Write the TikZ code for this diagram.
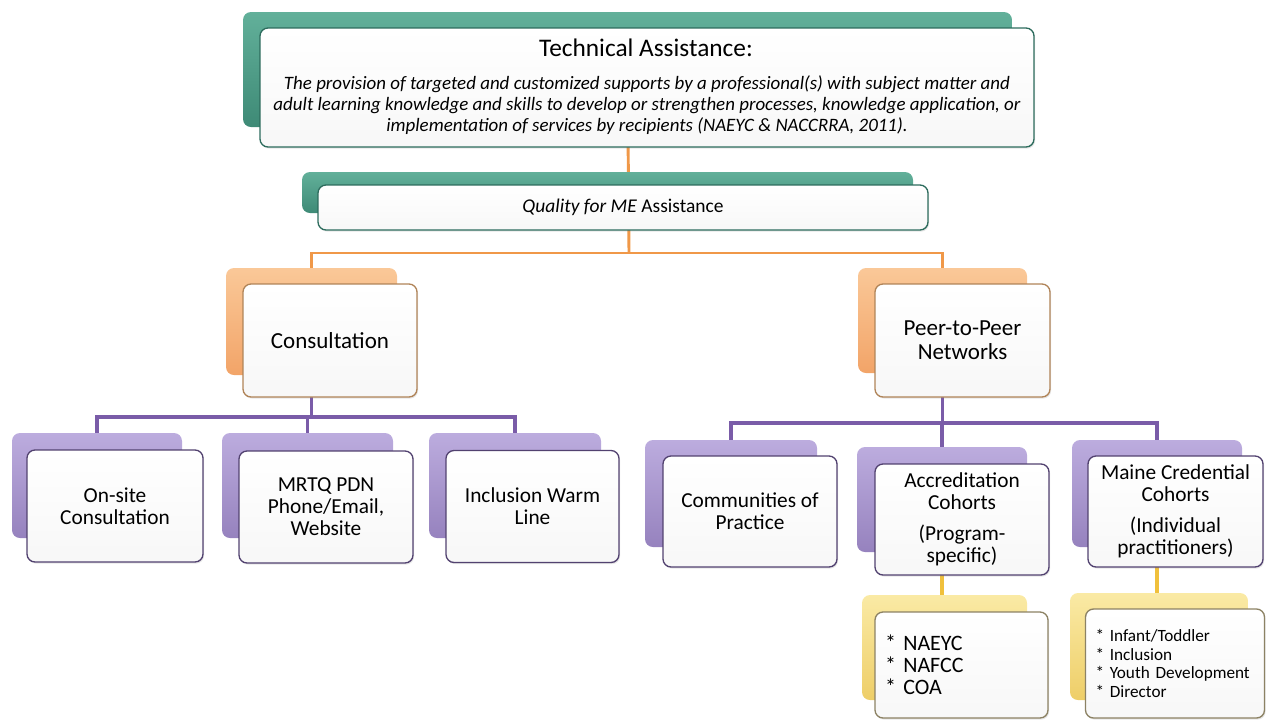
\documentclass[tikz,border=0pt]{standalone}
\usepackage{fontspec}
\setmainfont{Carlito}
\usetikzlibrary{shadows}
\pgfdeclarelayer{bg}
\pgfsetlayers{bg,main}

\definecolor{tealA}{RGB}{98,176,154}
\definecolor{tealB}{RGB}{62,138,118}
\definecolor{tealE}{RGB}{45,108,93}
\definecolor{orngA}{RGB}{250,200,152}
\definecolor{orngB}{RGB}{242,164,104}
\definecolor{orngE}{RGB}{176,132,88}
\definecolor{orngL}{RGB}{240,152,72}
\definecolor{purpA}{RGB}{188,172,222}
\definecolor{purpB}{RGB}{150,130,190}
\definecolor{purpE}{RGB}{82,66,112}
\definecolor{purpL}{RGB}{122,92,168}
\definecolor{yelwA}{RGB}{250,234,165}
\definecolor{yelwB}{RGB}{238,206,104}
\definecolor{yelwE}{RGB}{140,130,100}
\definecolor{yelwL}{RGB}{240,192,60}

\tikzset{every picture/.style={line width=0.75pt},
  frontbox/.style={rounded corners=6pt, line width=1pt, top color=white, bottom color=black!3,
    inner sep=0.75pt, align=center, drop shadow={opacity=0.2, shadow xshift=0.8pt, shadow yshift=-1.2pt}},
  backbox/.style={rounded corners=6pt, inner sep=0pt},
  tealbox/.style={frontbox, draw=tealE},
  tealshade/.style={backbox, top color=tealA, bottom color=tealB},
  orngbox/.style={frontbox, draw=orngE},
  orngshade/.style={backbox, top color=orngA, bottom color=orngB},
  purpbox/.style={frontbox, draw=purpE},
  purpshade/.style={backbox, top color=purpA, bottom color=purpB},
  yelwbox/.style={frontbox, draw=yelwE},
  yelwshade/.style={backbox, top color=yelwA, bottom color=yelwB},
  orngline/.style={draw=orngL, line width=2.2pt},
  purpline/.style={draw=purpL, line width=2.8pt},
  yelwline/.style={draw=yelwL, line width=2.4pt},
  midfont/.style={font=\fontsize{17.25}{18}\selectfont},
  lowfont/.style={font=\fontsize{16}{16.5}\selectfont}
}

\begin{document}
\begin{tikzpicture}[x=0.75pt,y=0.75pt,yscale=-1,xscale=1]
%set diagram left start at 0, and has height of 719
\path[use as bounding box] (0,0) rectangle (1266,719);

%Shape: Technical Assistance
\node[tealshade, minimum width=576.75pt, minimum height=86.25pt] (ta-b) at (627.5,69.5) {};
\node[tealbox, minimum width=580.5pt, minimum height=89.25pt] (ta) at (647,87.5) {};
% Text Node
\node[inner sep=0.75pt, font=\fontsize{19}{22}\selectfont] (ta-title) at (646,48) {Technical Assistance:};
% Text Node
\node[inner sep=0.75pt, align=center, font=\fontsize{14.2}{15.75}\selectfont\itshape] (ta-text) at (647,105)
  {The provision of targeted and customized supports by a professional(s) with subject matter and\\
   adult learning knowledge and skills to develop or strengthen processes, knowledge application, or\\
   implementation of services by recipients (NAEYC \& NACCRRA, 2011).};

%Shape: Quality for ME
\node[tealshade, minimum width=458.25pt, minimum height=30.75pt] (qme-b) at (607.5,192.5) {};
\node[tealbox, minimum width=457.5pt, minimum height=33.75pt, font=\fontsize{14.6}{17}\selectfont] (qme) at (623,207.5) {\textit{Quality for ME} Assistance};

%Shape: Consultation / Peer-to-Peer
\node[orngshade, minimum width=128.25pt, minimum height=80.25pt] (cons-b) at (311.5,321.5) {};
\node[orngbox, midfont, minimum width=130.5pt, minimum height=84.75pt] (cons) at (330,340.5) {Consultation};
\node[orngshade, minimum width=126.75pt, minimum height=78.75pt] (peer-b) at (942.5,320.5) {};
\node[orngbox, midfont, minimum width=131.25pt, minimum height=84.75pt] (peer) at (962.5,340.5) {Peer-to-Peer\\Networks};

%Shape: consultation branches
\node[purpshade, minimum width=127.5pt, minimum height=78.75pt] (onsite-b) at (97,485.5) {};
\node[purpbox, lowfont, minimum width=132pt, minimum height=84pt] (onsite) at (115,506) {On-site\\Consultation};
\node[purpshade, minimum width=128.25pt, minimum height=78.75pt] (mrtq-b) at (307.5,485.5) {};
\node[purpbox, lowfont, minimum width=130.5pt, minimum height=84pt] (mrtq) at (326,507) {MRTQ PDN\\Phone/Email,\\Website};
\node[purpshade, minimum width=129pt, minimum height=78.75pt] (incl-b) at (515,485.5) {};
\node[purpbox, lowfont, minimum width=129.75pt, minimum height=84pt] (incl) at (532.5,506.5) {Inclusion Warm\\Line};

%Shape: peer branches
\node[purpshade, minimum width=129pt, minimum height=80.25pt] (cop-b) at (731,493.5) {};
\node[purpbox, lowfont, minimum width=130.5pt, minimum height=83.25pt] (cop) at (750,511.5) {Communities of\\Practice};
\node[purpshade, minimum width=127.5pt, minimum height=78.75pt] (accr-b) at (942,499.5) {};
\node[purpbox, lowfont, minimum width=130.5pt, minimum height=83.25pt] (accr) at (962,519.5) {Accreditation\\Cohorts\\[6.5pt](Program-\\specific)};
\node[purpshade, minimum width=127.5pt, minimum height=80.25pt] (maine-b) at (1157,493.5) {};
\node[purpbox, lowfont, minimum width=131.25pt, minimum height=83.25pt] (maine) at (1175.5,511.5) {Maine Credential\\Cohorts\\[6.5pt](Individual\\practitioners)};

%Shape: lists
\node[yelwshade, minimum width=123.75pt, minimum height=78.75pt] (naeyc-b) at (944.5,647.5) {};
\node[yelwbox, minimum width=129.75pt, minimum height=79.5pt, inner xsep=7.5pt, text width=114.75pt, align=left,
  font=\fontsize{16.5}{16.5}\selectfont] (naeyc) at (961.5,665) {{*} NAEYC\\{*} NAFCC\\{*} COA};
\node[yelwshade, minimum width=133.5pt, minimum height=80.25pt] (cred-b) at (1159,646.5) {};
\node[yelwbox, minimum width=134.25pt, minimum height=81.75pt, inner xsep=7.5pt, text width=119.25pt, align=left,
  font=\fontsize{12.9}{14}\selectfont] (cred) at (1175,663.5) {{*} Infant/Toddler\\{*} Inclusion\\{*} Youth Development\\{*} Director};

% connectors
\coordinate (obar) at (629,253);
\coordinate (pbarL) at (311.5,417);
\coordinate (pbarR) at (942.5,423);
\begin{pgfonlayer}{bg}
\draw[orngline] (ta-b.center) -- (obar);
\draw[orngline] (cons-b.center) |- (obar) -| (peer-b.center);
\draw[purpline] (cons-b.center) -- (pbarL);
\draw[purpline] (onsite-b.center) |- (pbarL) -| (incl-b.center);
\draw[purpline] (mrtq-b.center) -- (mrtq-b.center |- pbarL);
\draw[purpline] (peer-b.center) -- (pbarR);
\draw[purpline] (cop-b.center) |- (pbarR) -| (maine-b.center);
\draw[purpline] (accr-b.center) -- (accr-b.center |- pbarR);
\draw[yelwline] (accr-b.center) -- (accr-b.center |- naeyc-b.center);
\draw[yelwline] (maine-b.center) -- (maine-b.center |- cred-b.center);
\end{pgfonlayer}
\end{tikzpicture}
\end{document}
